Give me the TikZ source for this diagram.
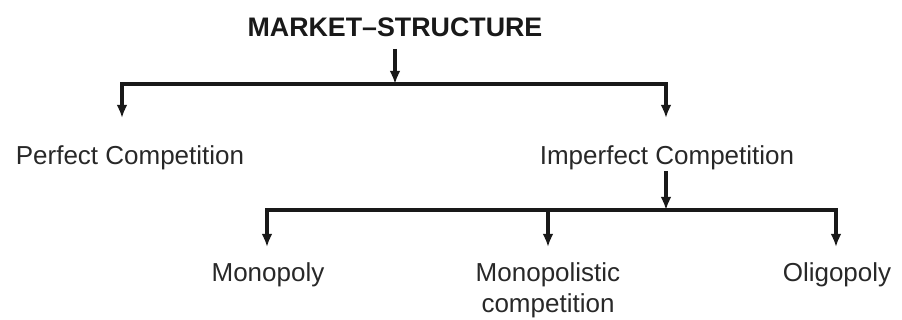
\documentclass[tikz,border=0pt]{standalone}
\usepackage{fontspec}
\setmainfont{Liberation Sans}
\usepackage{tikz}
\usetikzlibrary{arrows.meta,positioning,calc}
\definecolor{inkgray}{RGB}{25,25,25}
\definecolor{textgray}{RGB}{40,40,40}

\begin{document}
\begin{tikzpicture}[x=0.5pt, y=-0.5pt,
  label/.style={font=\fontsize{13}{15.6}\selectfont, text=textgray, inner sep=0pt, anchor=north, align=center},
  link/.style={line width=1.6pt, draw=inkgray},
  arr/.style={link, -{Latex[length=6.5pt, width=5.4pt]}}]
\useasboundingbox (0,0) rectangle (902,320);

% Title
\node[font=\fontsize{13.4}{16}\selectfont\bfseries, text=inkgray, inner sep=0pt, anchor=north] (ms) at (395,17) {MARKET--STRUCTURE};
\coordinate (j1) at (395,84);

% First level
\node[label] (pc) at (130,145) {Perfect Competition};
\node[label] (ic) at (667,145) {Imperfect Competition};
\coordinate (j2) at (666,210);

% Second level
\node[label] (mo) at (268,262) {Monopoly};
\node[label] (mc) at (548,262) {Monopolistic\\competition};
\node[label] (ol) at (837,262) {Oligopoly};

% Connectors
\draw[arr, shorten <=6pt] (ms.south) -- (j1);
\draw[arr, shorten >=13.5pt] (j1) -| ([xshift=-4pt]pc.north);
\draw[arr, shorten >=13.5pt] (j1) -| ([xshift=-0.5pt]ic.north);
\draw[arr, shorten <=0.5pt] (ic.south -| j2) -- (j2);
\draw[arr, shorten >=7.5pt] (j2) -| ([xshift=-0.5pt]mo.north);
\draw[arr, shorten >=7.5pt] (j2) -| (mc.north);
\draw[arr, shorten >=7.5pt] (j2) -| ([xshift=-0.5pt]ol.north);

\end{tikzpicture}
\end{document}
